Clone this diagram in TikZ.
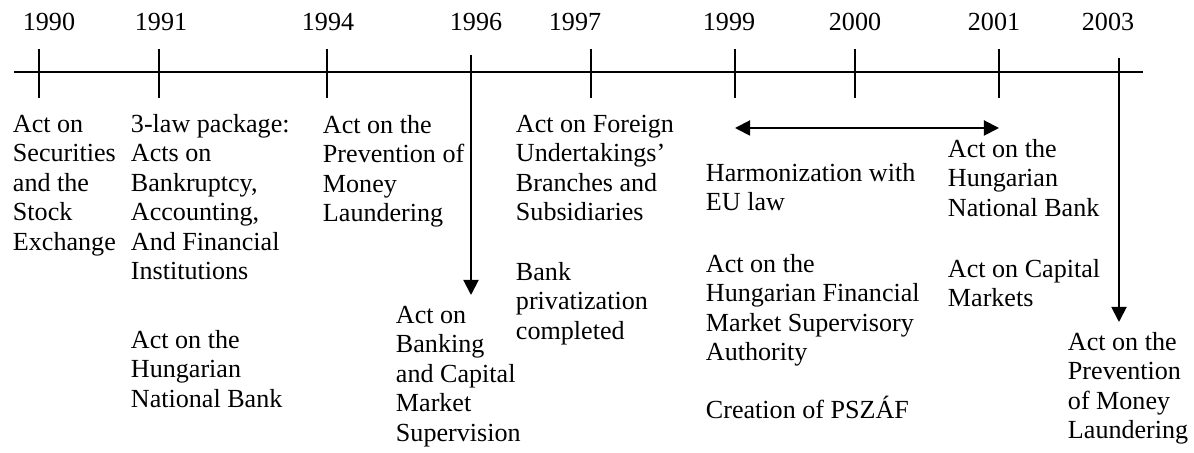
\documentclass[tikz,border=0pt]{standalone}
\usepackage{fontspec}
\setmainfont{Liberation Serif}
\usetikzlibrary{arrows.meta}

\begin{document}
\begin{tikzpicture}[x=0.46pt, y=-0.46pt, line width=0.9pt,
	>={Triangle[length=7pt,width=7pt]},
	year/.style={anchor=base, inner sep=0pt, font=\fontsize{12}{13.6}\selectfont},
	act/.style={anchor=north west, align=left, inner sep=0pt,
	font=\fontsize{12}{13.6}\selectfont}]
\useasboundingbox (0,0) rectangle (1194,453);

% time axis
\coordinate (start) at (14,72);
\coordinate (stop) at (1143,72);
\draw (start) -- (stop);
\foreach \yr/\x in {1990/39,1991/159,1994/327,1996/471,1997/591,1999/735,2000/855,2001/999,2003/1119}
	\coordinate (t\yr) at (\x,72);
\foreach \yr in {1990,1991,1994,1997,1999,2000,2001}
	\draw (t\yr) ++(0,-23) -- ++(0,49);

% year labels
\foreach \yr/\x in {1990/49,1991/161,1994/328,1996/476,1997/575,1999/729,2000/855,2001/994,2003/1108}
	\node[year] (y\yr) at (\x,31) {\yr};

% the laws
\node[act] (sec) at (12,114) {Act on\\Securities\\and the\\Stock\\Exchange};
\node[act] (pack) at (130,113) {3-law package:\\Acts on\\Bankruptcy,\\Accounting,\\And Financial\\Institutions};
\node[act] (mnb91) at (130,329) {Act on the\\Hungarian\\National Bank};
\node[act] (money94) at (322,114) {Act on the\\Prevention of\\Money\\Laundering};
\node[act] (bank96) at (395,305) {Act on\\Banking\\and Capital\\Market\\Supervision};
\node[act] (foreign) at (515,114) {Act on Foreign\\Undertakings'\\Branches and\\Subsidiaries};
\node[act] (priv) at (515,261) {Bank\\privatization\\completed};
\node[act] (eu) at (705,162) {Harmonization with\\EU law};
\node[act] (pszaf) at (705,253) {Act on the\\Hungarian Financial\\Market Supervisory\\Authority};
\node[act] (crea) at (705,395) {Creation of PSZÁF};
\node[act] (mnb01) at (947,138) {Act on the\\Hungarian\\National Bank};
\node[act] (cap) at (947,258) {Act on Capital\\Markets};
\node[act] (money03) at (1067,331) {Act on the\\Prevention\\of Money\\Laundering};

% arrows
\coordinate (a96) at (471,55);
\coordinate (b96) at (471,295);
\draw[->] (a96) -- (b96);
\coordinate (a03) at (1119,58);
\coordinate (b03) at (1119,322);
\draw[->] (a03) -- (b03);
\coordinate (h99) at (735,128);
\coordinate (h01) at (999,128);
\draw[<->] (h99) -- (h01);
\end{tikzpicture}
\end{document}
